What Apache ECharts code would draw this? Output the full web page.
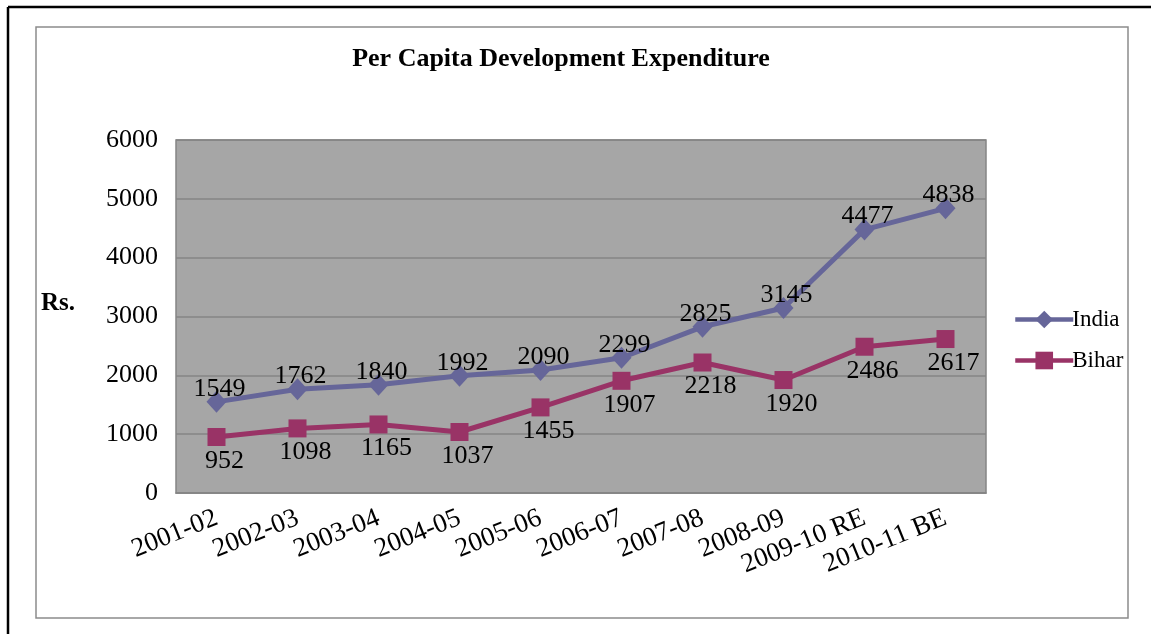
<!DOCTYPE html>
<html>
<head>
<meta charset="utf-8">
<script src="https://cdn.jsdelivr.net/npm/echarts@6/dist/echarts.min.js"></script>
<style>
html,body{margin:0;padding:0;background:#fff;}
#chart{width:1151px;height:634px;}
</style>
</head>
<body>
<div id="chart"></div>
<script>
const categories = ['2001-02','2002-03','2003-04','2004-05','2005-06','2006-07','2007-08','2008-09','2009-10 RE','2010-11 BE'];
const india = [1549,1762,1840,1992,2090,2299,2825,3145,4477,4838];
const bihar = [952,1098,1165,1037,1455,1907,2218,1920,2486,2617];
const yTicks = [0,1000,2000,3000,4000,5000,6000];

const FONT = '"Liberation Serif","Times New Roman",serif';
const chart = echarts.init(document.getElementById('chart'));
chart.setOption({
  backgroundColor: '#fff',
  animation: false,
  textStyle: {fontFamily: FONT, color: '#000'},
  title: {
    text: 'Per Capita Development Expenditure',
    left: 556, top: 41, textAlign: 'center',
    textStyle: {fontFamily: FONT, fontSize: 26, fontWeight: 'bold', color: '#000'}
  },
  graphic: [
    {type: 'line', shape: {x1: 8, y1: 7, x2: 1151, y2: 7}, style: {stroke: '#000', lineWidth: 2.5}, silent: true},
    {type: 'line', shape: {x1: 8, y1: 7, x2: 8, y2: 634}, style: {stroke: '#000', lineWidth: 2.5}, silent: true},
    {type: 'rect', shape: {x: 36, y: 27, width: 1092, height: 591}, style: {fill: 'none', stroke: '#8c8c8c', lineWidth: 1.5}, silent: true},
    {type: 'text', left: 41, top: 291, style: {text: 'Rs.', font: 'bold 25px ' + FONT, fill: '#000'}, silent: true}
  ],
  legend: {
    orient: 'vertical',
    left: 1008, top: 303,
    itemWidth: 58, itemHeight: 22, itemGap: 18,
    lineStyle: {width: 4.5},
    textStyle: {fontFamily: FONT, fontSize: 23, color: '#000', padding: [0, 0, 0, -6]},
    data: ['India', 'Bihar']
  },
  grid: {
    left: 176, top: 140, right: 165, bottom: 141,
    show: true, backgroundColor: '#A6A6A6', borderColor: '#858585', borderWidth: 1.5
  },
  xAxis: {
    type: 'category',
    data: categories,
    boundaryGap: true,
    axisLine: {show: true, lineStyle: {color: '#858585', width: 1.5}},
    axisTick: {show: false},
    axisLabel: {rotate: 22, margin: 24, fontFamily: FONT, fontSize: 27, color: '#000', interval: 0}
  },
  yAxis: {
    type: 'value',
    min: yTicks[0], max: yTicks[yTicks.length - 1], interval: 1000,
    axisLine: {show: false},
    axisTick: {show: false},
    axisLabel: {margin: 18, fontFamily: FONT, fontSize: 26, color: '#000', formatter: v => String(v)},
    splitLine: {show: true, lineStyle: {color: '#858585', width: 1.5}}
  },
  series: [
    {
      name: 'India', type: 'line', data: india,
      symbol: 'diamond', symbolSize: [20, 22],
      lineStyle: {color: '#666699', width: 5},
      itemStyle: {color: '#666699'},
      label: {show: true, position: 'top', distance: -11, offset: [3, 0], fontFamily: FONT, fontSize: 26, color: '#000'},
      z: 3
    },
    {
      name: 'Bihar', type: 'line', data: bihar,
      symbol: 'rect', symbolSize: 18,
      lineStyle: {color: '#993366', width: 5},
      itemStyle: {color: '#993366'},
      label: {show: true, position: 'bottom', distance: 2, offset: [8, 0], fontFamily: FONT, fontSize: 26, color: '#000'},
      z: 2
    }
  ]
});
</script>
</body>
</html>
